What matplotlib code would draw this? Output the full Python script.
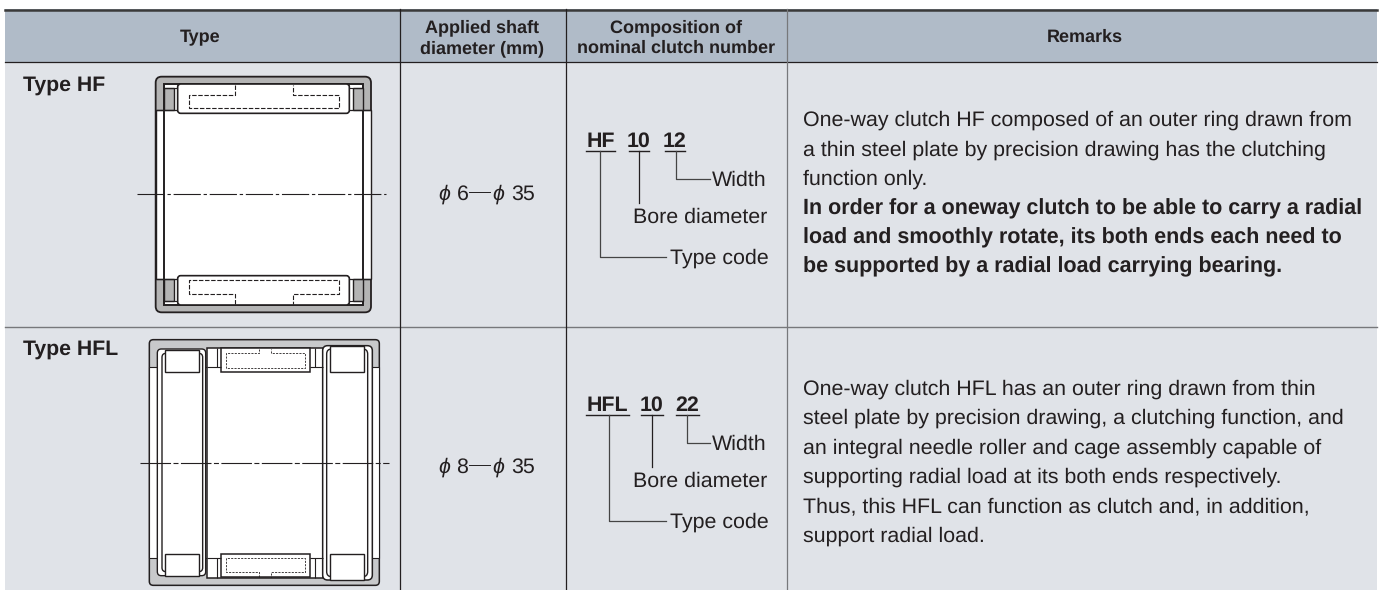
import matplotlib
matplotlib.use('Agg')
import matplotlib.pyplot as plt
from matplotlib.patches import Rectangle, FancyBboxPatch

plt.rcParams['font.family'] = ['Liberation Sans', 'DejaVu Sans']
plt.rcParams['text.hinting'] = 'no_hinting'

HEADER_BG = '#b0bbc8'
BODY_BG = '#e0e3e8'
INK = '#231f20'
RING = '#b4b4b4'

# textos de la tabla
col_x = [400, 566, 787]
headers = [('Type', 200, 42), ('Applied shaft', 482, 32.5), ('diameter (mm)', 482, 53),
           ('Composition of', 676, 32.5), ('nominal clutch number', 676, 53), ('Remarks', 1085, 42)]
row_labels = [('Type HF', 23, 91), ('Type HFL', 23, 355)]
shaft_ranges = [('6', '35', 200), ('8', '35', 473)]

remarks_hf = ['One-way clutch HF composed of an outer ring drawn from',
              'a thin steel plate by precision drawing has the clutching',
              'function only.']
remarks_hf_bold = ['In order for a oneway clutch to be able to carry a radial',
                   'load and smoothly rotate, its both ends each need to',
                   'be supported by a radial load carrying bearing.']
remarks_hfl = ['One-way clutch HFL has an outer ring drawn from thin',
               'steel plate by precision drawing, a clutching function, and',
               'an integral needle roller and cage assembly capable of',
               'supporting radial load at its both ends respectively.',
               'Thus, this HFL can function as clutch and, in addition,',
               'support radial load.']
remarks_hf_y = [126, 155.5, 185, 214, 243.5, 272.5]
remarks_hfl_y = [394.5, 424, 453.5, 483, 512, 541.5]

# numero nominal: (texto, x0, x1 subrayado)
code_hf = [('HF', 586, 615), ('10', 629, 649), ('12', 665, 685)]
code_hfl = [('HFL', 586, 629), ('10', 641, 663), ('22', 676, 699)]

# dibujo HF, coordenadas del zoom (x3) con origen (130, 60)
hf_origin = (130, 60)
hf_gray_blocks = [(102, 85, 30, 65), (670, 85, 28, 65), (102, 657, 30, 65), (670, 657, 28, 65)]
hf_rollers = [(143, 72, 515, 88), (143, 647, 515, 88)]
hf_dash_top = ([314, 314, 176, 176, 627, 627, 488, 488], [75, 104, 104, 145, 145, 104, 104, 75])
hf_dash_bot = ([314, 314, 176, 176, 627, 627, 488, 488], [732, 702, 702, 660, 660, 702, 702, 732])

# dibujo HFL, origen (130, 325)
hfl_origin = (130, 325)
hfl_rollers = [(106, 74, 100, 66), (106, 687, 100, 66), (600, 62, 102, 78), (600, 687, 102, 78)]
hfl_center_blocks = [(273, 70, 267, 70), (273, 687, 267, 70)]
hfl_dash_top = ([387, 387, 287, 287, 525, 525, 424, 424], [72, 84, 84, 128, 128, 84, 84, 72])
hfl_dash_bot = ([387, 387, 287, 287, 525, 525, 424, 424], [755, 742, 742, 698, 698, 742, 742, 755])

fig = plt.figure(figsize=(13.84, 5.9), dpi=100)
ax = fig.add_axes([0, 0, 1, 1])
ax.set_xlim(0, 1384)
ax.set_ylim(590, 0)
ax.axis('off')


def zrect(org, r, fc='white', ec=INK, lw=1.0, rad=0, z=2):
    x, y, w, h = org[0] + r[0] / 3, org[1] + r[1] / 3, r[2] / 3, r[3] / 3
    if rad:
        p = FancyBboxPatch((x + rad, y + rad), w - 2 * rad, h - 2 * rad,
                           boxstyle='round,pad=%f,rounding_size=%f' % (rad, rad),
                           fc=fc, ec=ec, lw=lw, zorder=z)
    else:
        p = Rectangle((x, y), w, h, fc=fc, ec=ec, lw=lw, zorder=z)
    ax.add_patch(p)


def zline(org, xs, ys, color=INK, lw=1.0, z=3, **kw):
    ax.plot([org[0] + v / 3 for v in xs], [org[1] + v / 3 for v in ys],
            color=color, lw=lw, zorder=z, solid_capstyle='butt', **kw)


# fondo de tabla
ax.add_patch(Rectangle((5, 9), 1372, 53, fc=HEADER_BG, ec='none', zorder=0))
ax.add_patch(Rectangle((5, 62), 1372, 528, fc=BODY_BG, ec='none', zorder=0))
ax.plot([5, 1377], [9.5, 9.5], color='#3a3a3a', lw=1.8, zorder=1)
ax.plot([5, 1377], [62, 62], color=INK, lw=0.9, zorder=1)
ax.plot([5, 1377], [326.5, 326.5], color='#77787b', lw=1.0, zorder=1)
for i, cx in enumerate(col_x):
    ax.plot([cx, cx], [9, 590], color=INK if i < 2 else '#77787b', lw=0.9, zorder=1)

for txt, x, y in headers:
    ax.text(x, y, txt, ha='center', va='baseline', fontsize=13, fontweight='bold', color=INK)
for txt, x, y in row_labels:
    ax.text(x, y, txt, ha='left', va='baseline', fontsize=15.3, fontweight='bold', color=INK)

# rangos de eje
for a, b, y in shaft_ranges:
    ax.text(438, y, '\u03d5', ha='left', va='baseline', fontsize=15.4, style='italic', color=INK)
    ax.text(456.5, y, a, ha='left', va='baseline', fontsize=15.4, color=INK)
    ax.plot([468.5, 490], [y - 8, y - 8], color=INK, lw=0.7)
    ax.text(492.5, y, '\u03d5', ha='left', va='baseline', fontsize=15.4, style='italic', color=INK)
    ax.text(511, y, b, ha='left', va='baseline', fontsize=15.4, color=INK)


def code_block(code, base, under, w_y, b_y, t_y, lead):
    for txt, x0, x1 in code:
        ax.text((x0 + x1) / 2, base, txt, ha='center', va='baseline', fontsize=15.4,
                fontweight='bold', color=INK)
        ax.plot([x0, x1], [under, under], color=INK, lw=1.0)
    ax.plot([lead[0], lead[0], 666], [under, t_y - 7, t_y - 7], color='#444444', lw=0.9)
    ax.plot([lead[1], lead[1]], [under, b_y - 20], color=INK, lw=0.9)
    ax.plot([lead[2], lead[2], 710], [under, w_y - 7, w_y - 7], color='#444444', lw=0.9)
    ax.text(767, w_y, 'Width', ha='right', va='baseline', fontsize=15.4, color=INK)
    ax.text(767, b_y, 'Bore diameter', ha='right', va='baseline', fontsize=15.4, color=INK)
    ax.text(769, t_y, 'Type code', ha='right', va='baseline', fontsize=15.4, color=INK)


code_block(code_hf, 147, 151, 186, 223, 264, (600, 638.5, 676))
code_block(code_hfl, 411, 415, 450, 487, 528, (609, 652, 687))

for txt, y in zip(remarks_hf, remarks_hf_y[:3]):
    ax.text(803, y, txt, ha='left', va='baseline', fontsize=15.4, color=INK)
for txt, y in zip(remarks_hf_bold, remarks_hf_y[3:]):
    ax.text(803, y, txt, ha='left', va='baseline', fontsize=15.5, fontweight='bold', color=INK)
for txt, y in zip(remarks_hfl, remarks_hfl_y):
    ax.text(803, y, txt, ha='left', va='baseline', fontsize=15.4, color=INK)

# --- dibujo HF
o = hf_origin
zrect(o, (77, 50, 646, 707), fc=RING, lw=1.3, rad=6)
zrect(o, (77, 150, 646, 507), fc='white', lw=1.0)
zrect(o, (102, 72, 596, 663), fc='white', lw=1.4, z=2)
for r in hf_gray_blocks:
    zrect(o, r, fc=RING, lw=1.0, z=3)
zline(o, [77, 723], [150, 150], lw=0.9)
zline(o, [77, 723], [657, 657], lw=0.9)
zline(o, [102, 143], [85, 85], lw=0.8)
zline(o, [658, 698], [85, 85], lw=0.8)
zline(o, [102, 143], [722, 722], lw=0.8)
zline(o, [658, 698], [722, 722], lw=0.8)
for r in hf_rollers:
    zrect(o, r, fc='white', lw=1.2, rad=3, z=4)
for xs, ys in (hf_dash_top, hf_dash_bot):
    zline(o, xs, ys, lw=0.8, z=5, ls=(0, (4, 1.5)))
zline(o, [22, 768], [403, 403], lw=0.8, z=5, ls=(0, (24.5, 2.5, 3, 2.5)))

# --- dibujo HFL
o = hfl_origin
zrect(o, (58, 44, 690, 737), fc='#c8c9cb', lw=1.1, rad=4)
zrect(o, (58, 127, 690, 571), fc='white', lw=0.8)
zrect(o, (82, 72, 145, 680), fc='white', lw=1.0, rad=4, z=3)
zrect(o, (96, 85, 122, 655), fc='white', lw=1.0, rad=4, z=3)
zrect(o, (230, 68, 348, 690), fc='white', lw=1.1, z=3)
zrect(o, (578, 62, 149, 703), fc='white', lw=1.1, rad=5, z=3)
zrect(o, (590, 72, 123, 683), fc='white', lw=1.0, rad=5, z=3)
for r in hfl_rollers:
    zrect(o, r, fc='white', lw=1.0, z=4)
for r in hfl_center_blocks:
    zrect(o, r, fc='white', lw=1.1, z=4)
zline(o, [230, 273], [127, 127], lw=0.8, z=4)
zline(o, [540, 578], [127, 127], lw=0.8, z=4)
zline(o, [230, 273], [700, 700], lw=0.8, z=4)
zline(o, [540, 578], [700, 700], lw=0.8, z=4)
zline(o, [260, 260], [68, 127], lw=0.8, z=4)
zline(o, [555, 555], [68, 127], lw=0.8, z=4)
zline(o, [260, 260], [700, 758], lw=0.8, z=4)
zline(o, [555, 555], [700, 758], lw=0.8, z=4)
for xs, ys in (hfl_dash_top, hfl_dash_bot):
    zline(o, xs, ys, lw=0.6, z=5, ls=(0, (2.5, 1.5)))
zline(o, [30, 777], [413, 413], lw=0.8, z=5, ls=(0, (27.5, 2.2, 4.5, 2.2)))

fig.savefig('out.png', dpi=100, facecolor='white')
